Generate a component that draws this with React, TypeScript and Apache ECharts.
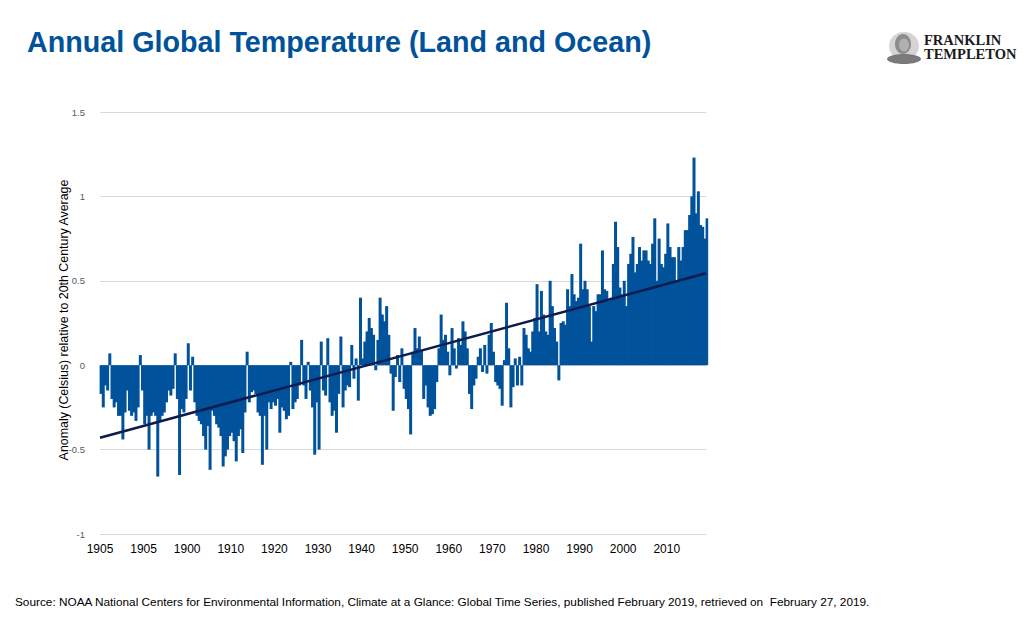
import React, { useEffect, useRef } from "react";
import * as echarts from "echarts";

// Half-year anomaly values (°C), starting at 1880, step 0.5 year
const START_YEAR = 1880;
const STEP = 0.5;

const anom1880_1904 = [
  -0.17, -0.25, -0.12, -0.15, 0.07, -0.2, -0.25, -0.22, -0.3, -0.3,
  -0.44, -0.28, -0.15, -0.27, -0.3, -0.28, -0.33, -0.25, 0.06, -0.15,
  -0.35, -0.3, -0.5, -0.3, -0.28, -0.3, -0.66, -0.33, -0.3, -0.28,
  -0.22, -0.15, -0.18, -0.14, 0.07, -0.2, -0.65, -0.26, -0.28, -0.2,
  0.13, -0.15, 0.05, -0.22, -0.3, -0.33, -0.35, -0.42, -0.5,
];
const anom1904_1928 = [
  -0.36, -0.62, -0.27, -0.3, -0.35, -0.37, -0.42, -0.6, -0.54, -0.5,
  -0.42, -0.4, -0.45, -0.57, -0.42, -0.38, -0.52, -0.28, 0.08, -0.22,
  -0.16, -0.15, -0.17, -0.28, -0.3, -0.59, -0.3, -0.5, -0.22, -0.26,
  -0.22, -0.24, -0.2, -0.4, -0.25, -0.27, -0.32, -0.3, 0.02, -0.26,
  -0.22, -0.2, -0.12, 0.15, -0.12, -0.2, 0.02, -0.15,
];
const anom1928_1951 = [
  -0.25, -0.53, -0.22, -0.5, 0.14, -0.15, -0.18, 0.16, -0.22, -0.3,
  -0.27, -0.4, -0.17, 0.17, -0.25, -0.15, -0.12, -0.13, 0.12, -0.08,
  0.04, -0.21, 0.4, 0.04, 0.14, 0.2, 0.28, 0.22, 0.18, -0.03,
  0.15, 0.4, 0.3, 0.26, 0.35, 0.18, -0.05, -0.27, -0.07, 0.06,
  -0.1, 0.1, -0.14, -0.2, -0.26, -0.41,
];
const anom1951_1976 = [
  0.08, 0.22, 0.1, 0.17, 0.09, -0.2, -0.12, -0.25, -0.3, -0.29,
  -0.26, -0.1, 0.1, 0.3, 0.15, 0.18, 0.08, -0.06, 0.22, 0.1,
  -0.02, 0.16, 0.12, 0.26, 0.2, 0.1, -0.17, -0.26, -0.12, -0.08,
  0.05, 0.1, -0.04, 0.12, -0.05, 0.18, 0.25, 0.08, -0.1, -0.12,
  -0.14, -0.24, 0.03, 0.37, 0.1, -0.25, -0.13, 0.04, -0.12, 0.05,
];
const anom1976_1998 = [
  -0.12, 0.22, 0.18, 0.1, 0.08, 0.2, 0.28, 0.48, 0.2, 0.44,
  0.3, 0.2, 0.18, 0.5, 0.35, 0.22, 0.14, -0.09, 0.25, 0.26,
  0.24, 0.45, 0.35, 0.54, 0.42, 0.38, 0.4, 0.72, 0.45, 0.5,
  0.45, 0.35, 0.14, 0.35, 0.32, 0.42, 0.42, 0.68, 0.45, 0.44,
  0.38, 0.4, 0.6, 0.85,
];
const anom1998_2019 = [
  0.7, 0.46, 0.42, 0.5, 0.35, 0.6, 0.66, 0.76, 0.55, 0.6,
  0.7, 0.62, 0.68, 0.68, 0.62, 0.6, 0.72, 0.87, 0.5, 0.75,
  0.6, 0.58, 0.66, 0.84, 0.7, 0.64, 0.64, 0.5, 0.7, 0.62,
  0.7, 0.8, 0.8, 0.89, 1.0, 1.23, 0.9, 1.03, 0.83, 0.82,
  0.75, 0.87,
];

const xTickYears = [1880, 1890, 1900, 1910, 1920, 1930, 1940, 1950, 1960, 1970, 1980, 1990, 2000, 2010];
const xTickLabels = ["1905", "1905", "1900", "1910", "1920", "1930", "1940", "1950", "1960", "1970", "1980", "1990", "2000", "2010"];

const trendYears = [1880, 2019];
const trendValues = [-0.43, 0.545];

const TITLE = "Annual Global Temperature (Land and Ocean)";
const Y_NAME = "Anomaly (Celsius) relative to 20th Century Average";
const SOURCE =
  "Source: NOAA National Centers for Environmental Information, Climate at a Glance: Global Time Series, published February 2019, retrieved on  February 27, 2019.";

const SANS = "'Liberation Sans', Arial, sans-serif";
const SERIF = "'Liberation Serif', 'DejaVu Serif', serif";

export default function App() {
  const ref = useRef<HTMLDivElement>(null);

  useEffect(() => {
    if (!ref.current) return;
    const chart = echarts.init(ref.current, null, { renderer: "svg" });
    const values = [
      ...anom1880_1904,
      ...anom1904_1928,
      ...anom1928_1951,
      ...anom1951_1976,
      ...anom1976_1998,
      ...anom1998_2019,
    ];
    const barData = values.map((v, i) => [START_YEAR + i * STEP + STEP / 2, v]);
    const trendData = trendYears.map((y, i) => [y, trendValues[i]]);

    chart.setOption({
      animation: false,
      backgroundColor: "#ffffff",
      grid: { left: 100, right: 327, top: 112, bottom: 93, containLabel: false },
      xAxis: {
        type: "value",
        min: 1880,
        max: 2019,
        interval: 10,
        axisLine: { show: false },
        axisTick: { show: false },
        splitLine: { show: false },
        axisLabel: {
          fontFamily: SANS,
          fontSize: 12,
          color: "#000000",
          margin: 9,
          showMaxLabel: false,
          formatter: (v: number) => {
            const idx = xTickYears.indexOf(Math.round(v));
            return idx >= 0 ? xTickLabels[idx] : "";
          },
        },
      },
      yAxis: {
        type: "value",
        min: -1,
        max: 1.5,
        interval: 0.5,
        axisLine: { show: false },
        axisTick: { show: false },
        splitLine: { lineStyle: { color: "#d9d9d9", width: 1 } },
        axisLabel: {
          fontFamily: SANS,
          fontSize: 9.5,
          color: "#595959",
          margin: 15,
        },
      },
      series: [
        {
          type: "bar",
          data: barData,
          barWidth: 3,
          itemStyle: { color: "#00529b" },
          z: 2,
        },
        {
          type: "line",
          data: trendData,
          symbol: "none",
          lineStyle: { color: "#0e1b4d", width: 2.5 },
          z: 5,
        },
      ],
      graphic: [
        {
          type: "text",
          left: 27,
          top: 27,
          style: {
            text: TITLE,
            fontFamily: SANS,
            fontSize: 28.7,
            fontWeight: "bold",
            fill: "#00529b",
          },
        },
        {
          type: "text",
          x: 64,
          y: 320,
          rotation: Math.PI / 2,
          style: {
            text: Y_NAME,
            fontFamily: SANS,
            fontSize: 12.4,
            fill: "#000000",
            align: "center",
            verticalAlign: "middle",
          },
        },
        {
          type: "text",
          left: 15,
          top: 596,
          style: {
            text: SOURCE,
            fontFamily: SANS,
            fontSize: 11.8,
            fill: "#000000",
          },
        },
        {
          type: "group",
          children: [
            { type: "ellipse", shape: { cx: 904, cy: 46, rx: 15, ry: 14 }, style: { fill: "#d4d4d4" } },
            { type: "ellipse", shape: { cx: 904, cy: 59, rx: 17, ry: 5 }, style: { fill: "#7a7a7a" } },
            { type: "ellipse", shape: { cx: 903, cy: 44, rx: 8, ry: 10 }, style: { fill: "#8c8c8c" } },
            { type: "ellipse", shape: { cx: 904, cy: 45, rx: 5, ry: 6.5 }, style: { fill: "#b0b0b0" } },
          ],
        },
        {
          type: "text",
          x: 924,
          y: 40,
          style: {
            text: "FRANKLIN",
            fontFamily: SERIF,
            fontSize: 14.5,
            fontWeight: "bold",
            fill: "#1a1a1a",
            verticalAlign: "middle",
          },
        },
        {
          type: "text",
          x: 924,
          y: 54,
          style: {
            text: "TEMPLETON",
            fontFamily: SERIF,
            fontSize: 14.5,
            fontWeight: "bold",
            fill: "#1a1a1a",
            verticalAlign: "middle",
          },
        },
      ],
    });

    return () => chart.dispose();
  }, []);

  return (
    <div
      ref={ref}
      style={{ position: "fixed", left: 0, top: 0, width: 1033, height: 627, background: "#fff" }}
    />
  );
}
